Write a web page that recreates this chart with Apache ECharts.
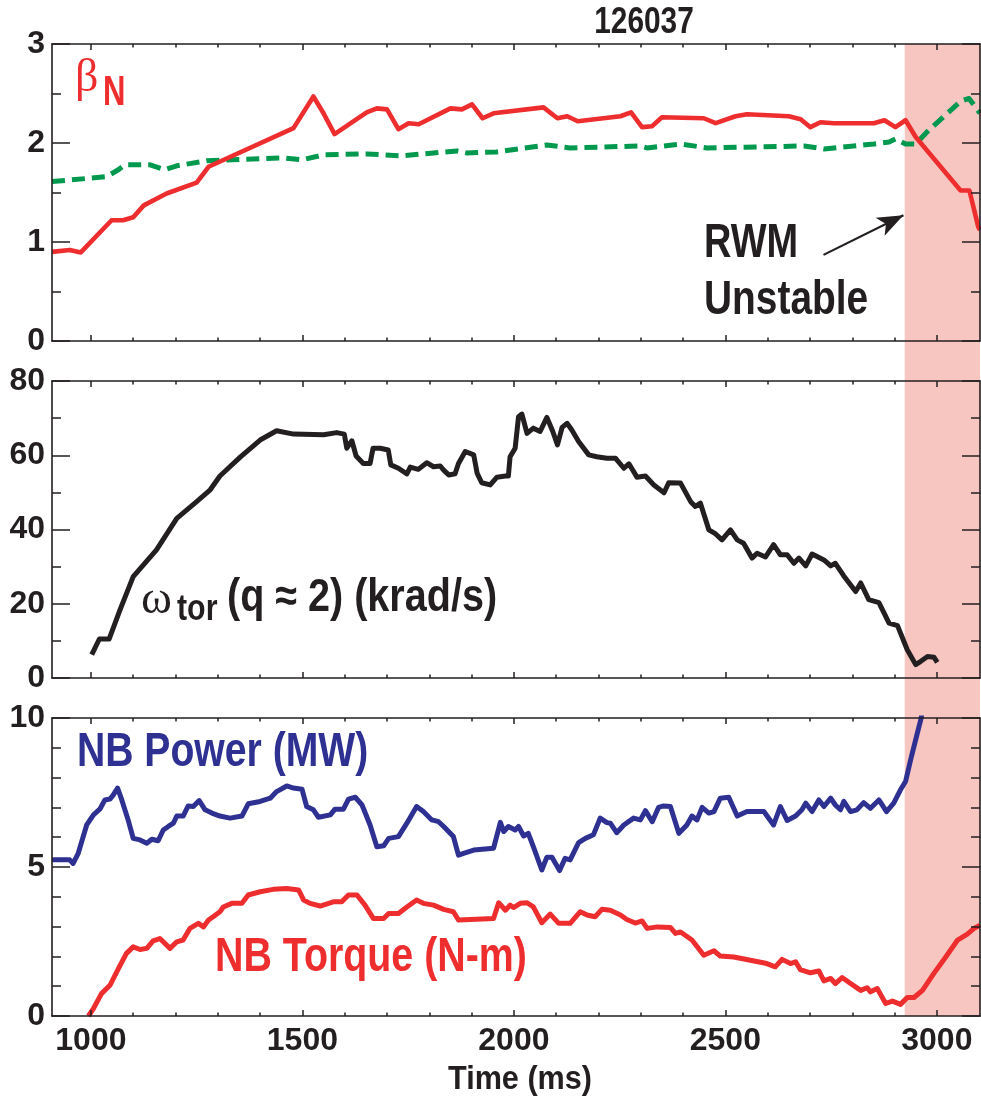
<!DOCTYPE html>
<html>
<head>
<meta charset="utf-8">
<title>Shot 126037</title>
<script src="https://cdn.jsdelivr.net/npm/echarts@6/dist/echarts.min.js"></script>
<style>
  html, body { margin: 0; padding: 0; background: #ffffff; }
  #chart { width: 981px; height: 1099px; }
</style>
</head>
<body>
<div id="chart"></div>
<script>
// ---- Shot 126037 time traces: [time (ms), value] ----
const shotNumber = '126037';
const timeRange = [908, 3102];
const majorTimes = [1000, 1500, 2000, 2500, 3000];
const minorTimes = [1100, 1200, 1300, 1400, 1600, 1700, 1800, 1900, 2100, 2200, 2300, 2400, 2600, 2700, 2800, 2900];

// RWM unstable window (ms)
const unstableWindow = [2924, 3102];

// Normalized beta
const betaN = [
  [908, 0.90], [950, 0.92], [976, 0.895], [1049, 1.22], [1076, 1.22], [1100, 1.25], [1125, 1.37],
  [1179, 1.49], [1250, 1.60], [1278, 1.76], [1479, 2.15], [1526, 2.47], [1550, 2.30], [1576, 2.09],
  [1652, 2.31], [1676, 2.35], [1700, 2.34], [1727, 2.14], [1751, 2.20], [1775, 2.19], [1850, 2.35],
  [1877, 2.34], [1901, 2.39], [1926, 2.25], [1952, 2.30], [2070, 2.36], [2103, 2.25], [2126, 2.27],
  [2151, 2.22], [2252, 2.27], [2277, 2.31], [2303, 2.16], [2327, 2.17], [2350, 2.26], [2449, 2.25],
  [2477, 2.20], [2524, 2.27], [2551, 2.29], [2650, 2.27], [2678, 2.24], [2701, 2.16], [2725, 2.21],
  [2756, 2.20], [2851, 2.20], [2876, 2.23], [2902, 2.16], [2926, 2.23], [2950, 2.06], [3056, 1.52],
  [3077, 1.52], [3098, 1.15], [3102, 1.12]
];

// No-wall beta limit (dashed)
const betaNoWall = [
  [908, 1.61], [1037, 1.66], [1065, 1.73], [1080, 1.78], [1140, 1.78], [1175, 1.73], [1203, 1.77],
  [1274, 1.82], [1455, 1.85], [1499, 1.83], [1550, 1.88], [1652, 1.89], [1731, 1.87], [1865, 1.92],
  [1888, 1.90], [1959, 1.91], [2078, 1.98], [2133, 1.95], [2299, 1.97], [2315, 1.95], [2394, 1.99],
  [2457, 1.95], [2686, 1.97], [2733, 1.94], [2851, 1.99], [2887, 2.01], [2902, 2.04], [2926, 1.99],
  [2950, 1.99], [2981, 2.13], [3056, 2.42], [3076, 2.45], [3102, 2.30]
];

// Toroidal rotation at q = 2 (krad/s)
const omegaTor = [
  [1002, 6.3], [1020, 10.5], [1043, 10.5], [1069, 18.4], [1100, 27.3], [1155, 34.5], [1203, 43.0],
  [1250, 47.5], [1282, 50.7], [1305, 54.4], [1353, 59.5], [1400, 64.1], [1439, 66.6], [1479, 65.7],
  [1550, 65.5], [1581, 66.1], [1599, 65.7], [1605, 61.9], [1617, 63.9], [1627, 59.8], [1644, 57.8],
  [1660, 57.8], [1667, 61.9], [1684, 61.9], [1703, 61.4], [1709, 57.4], [1727, 56.5], [1747, 55.0],
  [1755, 56.8], [1774, 56.2], [1794, 58.0], [1810, 56.9], [1826, 57.1], [1834, 56.0], [1846, 54.7],
  [1861, 55.0], [1869, 57.8], [1885, 61.0], [1905, 60.1], [1913, 55.2], [1924, 52.6], [1944, 52.0],
  [1960, 54.1], [1980, 54.4], [1987, 54.4], [1991, 59.6], [2003, 61.9], [2011, 70.4], [2019, 71.1],
  [2031, 65.9], [2046, 67.3], [2062, 66.4], [2078, 70.2], [2092, 66.4], [2103, 62.8], [2114, 67.5],
  [2126, 68.6], [2137, 66.8], [2153, 63.7], [2177, 60.1], [2196, 59.6], [2220, 59.2], [2240, 59.2],
  [2260, 56.5], [2272, 57.7], [2291, 54.1], [2311, 54.4], [2331, 52.0], [2355, 49.9], [2366, 52.6],
  [2394, 52.5], [2418, 47.5], [2429, 46.2], [2441, 47.1], [2461, 39.9], [2477, 38.8], [2492, 37.2],
  [2512, 39.9], [2528, 37.2], [2543, 36.3], [2563, 32.3], [2575, 33.6], [2595, 32.6], [2614, 35.9],
  [2630, 33.2], [2646, 33.2], [2662, 30.9], [2674, 32.3], [2690, 30.2], [2705, 33.4], [2733, 31.8],
  [2749, 30.2], [2760, 30.9], [2780, 27.5], [2808, 23.3], [2820, 25.6], [2839, 21.1], [2863, 20.3],
  [2887, 14.8], [2907, 14.1], [2930, 7.6], [2950, 3.6], [2962, 4.5], [2978, 5.8], [2993, 5.6], [3001, 4.2]
];

// Neutral beam power (MW)
const nbPower = [
  [908, 5.24], [950, 5.24], [958, 5.12], [970, 5.46], [990, 6.41], [1006, 6.75], [1021, 6.94],
  [1033, 7.25], [1045, 7.28], [1053, 7.42], [1063, 7.65], [1073, 7.25], [1088, 6.58], [1100, 5.96],
  [1116, 5.91], [1132, 5.80], [1144, 5.93], [1159, 5.88], [1171, 6.24], [1183, 6.36], [1195, 6.47],
  [1203, 6.71], [1218, 6.71], [1230, 7.05], [1242, 7.03], [1256, 7.23], [1270, 6.92], [1286, 6.81],
  [1305, 6.71], [1329, 6.64], [1357, 6.71], [1372, 7.12], [1400, 7.20], [1424, 7.31], [1439, 7.53],
  [1463, 7.72], [1479, 7.65], [1499, 7.61], [1510, 7.03], [1526, 6.92], [1538, 6.67], [1566, 6.75],
  [1577, 6.94], [1597, 6.94], [1609, 7.28], [1625, 7.34], [1641, 7.08], [1660, 6.41], [1676, 5.68],
  [1692, 5.71], [1704, 5.96], [1727, 6.02], [1747, 6.47], [1770, 7.03], [1786, 6.86], [1806, 6.58],
  [1822, 6.52], [1834, 6.36], [1857, 6.02], [1869, 5.40], [1881, 5.46], [1905, 5.57], [1952, 5.63],
  [1968, 6.50], [1976, 6.19], [1987, 6.36], [2003, 6.24], [2011, 6.36], [2023, 6.04], [2034, 6.13],
  [2046, 5.68], [2066, 4.90], [2078, 5.33], [2090, 5.33], [2108, 4.88], [2121, 5.29], [2133, 5.24],
  [2153, 5.82], [2169, 5.96], [2188, 6.08], [2204, 6.64], [2220, 6.49], [2228, 6.47], [2243, 6.15],
  [2260, 6.41], [2283, 6.64], [2299, 6.58], [2311, 6.89], [2327, 6.52], [2342, 7.00], [2354, 7.05],
  [2370, 7.03], [2390, 6.13], [2409, 6.41], [2421, 6.71], [2433, 6.58], [2445, 7.00], [2461, 6.81],
  [2473, 6.86], [2488, 7.31], [2508, 7.34], [2528, 6.71], [2551, 6.86], [2591, 6.86], [2614, 6.41],
  [2630, 7.03], [2646, 6.56], [2666, 6.71], [2681, 6.92], [2690, 7.14], [2705, 6.86], [2721, 7.25],
  [2733, 7.03], [2749, 7.31], [2760, 7.08], [2772, 6.92], [2780, 7.20], [2796, 6.86], [2811, 6.92],
  [2827, 7.16], [2843, 6.97], [2863, 7.25], [2881, 6.86], [2898, 7.14], [2914, 7.59], [2926, 7.87],
  [2938, 8.60], [2954, 9.50], [2963, 10.0], [2975, 11.2]
];

// Neutral beam torque (N-m)
const nbTorque = [
  [994, 0.00], [1006, 0.25], [1025, 0.75], [1045, 1.03], [1065, 1.59], [1084, 2.10], [1100, 2.32],
  [1116, 2.23], [1132, 2.27], [1147, 2.52], [1163, 2.60], [1187, 2.27], [1203, 2.49], [1218, 2.55],
  [1234, 2.94], [1254, 3.11], [1266, 2.99], [1278, 3.22], [1289, 3.33], [1305, 3.50], [1313, 3.66],
  [1333, 3.78], [1357, 3.78], [1372, 4.06], [1400, 4.17], [1431, 4.25], [1463, 4.28], [1491, 4.23],
  [1503, 3.89], [1518, 3.78], [1542, 3.69], [1573, 3.83], [1593, 3.83], [1609, 4.06], [1629, 4.06],
  [1648, 3.72], [1668, 3.27], [1692, 3.27], [1704, 3.44], [1727, 3.44], [1747, 3.66], [1770, 3.89],
  [1786, 3.78], [1810, 3.72], [1834, 3.58], [1857, 3.50], [1869, 3.22], [1897, 3.24], [1952, 3.27],
  [1964, 3.80], [1980, 3.55], [1991, 3.72], [1999, 3.64], [2015, 3.78], [2031, 3.80], [2046, 3.66],
  [2066, 3.13], [2086, 3.42], [2106, 3.11], [2133, 3.11], [2157, 3.50], [2173, 3.39], [2192, 3.33],
  [2208, 3.58], [2228, 3.55], [2252, 3.39], [2267, 3.24], [2287, 3.12], [2303, 3.19], [2315, 2.94],
  [2339, 2.99], [2370, 2.97], [2382, 2.77], [2394, 2.82], [2421, 2.55], [2449, 2.04], [2473, 2.19],
  [2488, 2.01], [2520, 1.98], [2559, 1.87], [2598, 1.76], [2618, 1.65], [2634, 1.90], [2654, 1.76],
  [2666, 1.82], [2677, 1.56], [2701, 1.45], [2721, 1.51], [2733, 1.18], [2749, 1.26], [2760, 1.09],
  [2776, 1.29], [2796, 1.09], [2820, 0.86], [2835, 0.95], [2843, 0.81], [2859, 0.92], [2879, 0.42],
  [2895, 0.50], [2914, 0.39], [2930, 0.62], [2946, 0.62], [2966, 0.86], [2993, 1.43], [3021, 1.98],
  [3049, 2.55], [3072, 2.75], [3088, 2.94], [3102, 3.05]
];

// Arrow pointing at the onset of the unstable window (time, beta_N)
const arrowFrom = [2732, 0.87];
const arrowTo = [2921, 1.27];

// Panel y ranges: [max, major step, minor subdivisions]
const panelScales = [[3, 1, 2], [80, 20, 2], [10, 5, 5]];

// ---- styling ----
const INK = '#231F20';
const RED = '#EE2D2F';
const GREEN = '#00994D';
const BLUE = '#2E3192';
const BAND = '#F8C6C1';
const SANS = "'Liberation Sans', Arial, sans-serif";
const SERIF = "'Liberation Serif', 'DejaVu Serif', serif";

const grids = [
  { left: 52, right: 1, top: 44, height: 297 },
  { left: 52, right: 1, top: 381, height: 297 },
  { left: 52, right: 1, top: 718, height: 298 },
  { left: 52, right: 1, top: 44, height: 972 }   // overlay used for the shaded window
];

const tickLine = { color: INK, width: 1.5 };

function timeAxis(gi, position, values, len, withLine, withLabels) {
  return {
    type: 'value', gridIndex: gi, position: position,
    min: timeRange[0], max: timeRange[1], z: 5,
    axisLine: { show: withLine, onZero: false, lineStyle: { color: INK, width: 1.6 } },
    axisTick: { show: true, inside: true, length: len, customValues: values, lineStyle: tickLine },
    axisLabel: {
      show: withLabels, customValues: majorTimes, margin: 9,
      formatter: function (v) { return String(v); },
      color: INK, fontFamily: SANS, fontWeight: 'bold', fontSize: 32
    },
    splitLine: { show: false }
  };
}

function valueAxis(gi, position, scale, withLabels) {
  return {
    type: 'value', gridIndex: gi, position: position, z: 5,
    min: 0, max: scale[0], interval: scale[1],
    axisLine: { show: true, onZero: false, lineStyle: { color: INK, width: 1.6 } },
    axisTick: { show: true, inside: true, length: 18, lineStyle: tickLine },
    minorTick: { show: true, splitNumber: scale[2], length: 9, lineStyle: tickLine },
    axisLabel: {
      show: withLabels, margin: 7, color: INK,
      fontFamily: SANS, fontWeight: 'bold', fontSize: 32
    },
    splitLine: { show: false }
  };
}

const xAxes = [];
const yAxes = [];
for (let gi = 0; gi < 3; gi++) {
  xAxes.push(timeAxis(gi, 'bottom', majorTimes, 6, true, gi === 2));
  xAxes.push(timeAxis(gi, 'top', majorTimes, 6, true, false));
  xAxes.push(timeAxis(gi, 'bottom', minorTimes, 3.5, false, false));
  xAxes.push(timeAxis(gi, 'top', minorTimes, 3.5, false, false));
  yAxes.push(valueAxis(gi, 'left', panelScales[gi], true));
  yAxes.push(valueAxis(gi, 'right', panelScales[gi], false));
}
// hidden axes of the overlay grid
xAxes.push({ type: 'value', gridIndex: 3, min: timeRange[0], max: timeRange[1], show: false });
yAxes.push({ type: 'value', gridIndex: 3, min: 0, max: 1, show: false });
const overlayX = xAxes.length - 1;
const overlayY = yAxes.length - 1;

function trace(name, data, xi, yi, color, width, dash) {
  return {
    name: name, type: 'line', data: data, xAxisIndex: xi, yAxisIndex: yi,
    showSymbol: false, symbol: 'none', z: 4, animation: false,
    lineStyle: { color: color, width: width, type: dash || 'solid', cap: 'butt', join: 'round' }
  };
}

const series = [
  {
    name: 'RWM unstable', type: 'line', data: [], xAxisIndex: overlayX, yAxisIndex: overlayY,
    z: 0, silent: true, animation: false,
    markArea: {
      silent: true, z: 0,
      itemStyle: { color: BAND },
      data: [[{ coord: [unstableWindow[0], 0] }, { coord: [unstableWindow[1], 1] }]]
    }
  },
  trace('no-wall limit', betaNoWall, 0, 0, GREEN, 5, [13, 7]),
  Object.assign(trace('beta_N', betaN, 0, 0, RED, 4.6), {
    markLine: {
      silent: true, animation: false, symbol: ['none', 'arrow'], symbolSize: [15, 26],
      lineStyle: { color: INK, width: 2.2, type: 'solid' },
      label: { show: false },
      data: [[{ coord: arrowFrom }, { coord: arrowTo }]]
    }
  }),
  trace('omega_tor', omegaTor, 4, 2, INK, 5),
  trace('NB power', nbPower, 8, 4, BLUE, 5),
  trace('NB torque', nbTorque, 8, 4, RED, 5)
];

// Bold annotations; condensed lettering via a horizontal scale
function label(text, x, y, size, color, opts) {
  const o = opts || {};
  const align = o.align || 'left';
  return {
    type: 'text', x: x, y: y, z: 20, silent: true,
    scaleX: o.scaleX || 1,
    style: {
      text: text, fill: color,
      fontSize: size,
      fontFamily: SANS,
      fontWeight: 'bold',
      align: align,
      verticalAlign: 'middle'
    }
  };
}

const graphics = [
  label(shotNumber, 644, 23, 36, INK, { align: 'center', scaleX: 0.83 }),
  label('N', 103, 93, 42, RED, { scaleX: 0.74 }),
  label('RWM', 704, 244, 48, INK, { scaleX: 0.79 }),
  label('Unstable', 704, 301, 48, INK, { scaleX: 0.81 }),
  label('tor', 177, 610, 37, INK, { scaleX: 0.82 }),
  label('(q ≈ 2) (krad/s)', 227, 598, 46, INK, { scaleX: 0.86 }),
  label('NB Power (MW)', 77, 753, 48, BLUE, { scaleX: 0.815 }),
  label('NB Torque (N-m)', 215, 958, 48, RED, { scaleX: 0.82 }),
  label('Time (ms)', 520, 1080, 34, INK, { align: 'center', scaleX: 0.9 })
];

// Greek symbols in a light serif face
const greekTitles = [
  { text: 'β', left: 75, top: 56, padding: 0,
    textStyle: { color: RED, fontSize: 46, fontFamily: SERIF, fontWeight: 'normal' } },
  { text: 'ω', left: 141, top: 577, padding: 0,
    textStyle: { color: INK, fontSize: 47, fontFamily: SERIF, fontWeight: 'normal' } }
];

const chart = echarts.init(document.getElementById('chart'), null, { renderer: 'canvas' });
chart.setOption({
  backgroundColor: '#ffffff',
  animation: false,
  grid: grids,
  xAxis: xAxes,
  yAxis: yAxes,
  series: series,
  graphic: graphics,
  title: greekTitles
});
</script>
</body>
</html>
